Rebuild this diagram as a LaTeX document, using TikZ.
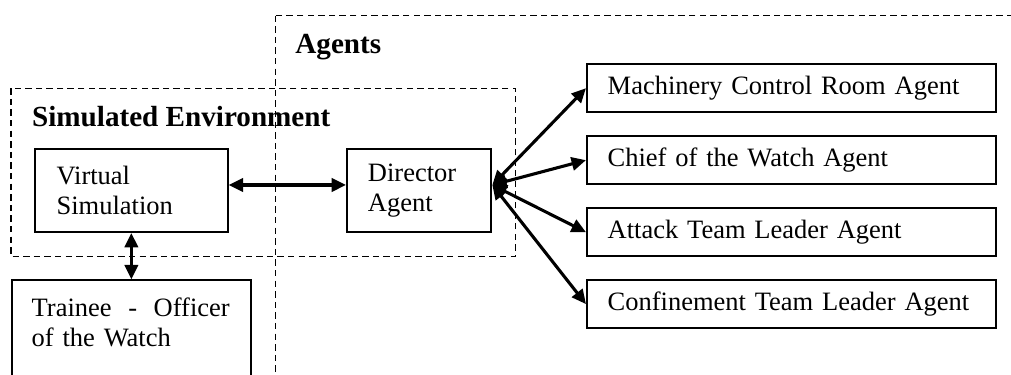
\documentclass[tikz,border=0pt]{standalone}
\usepackage{fontspec}
\setmainfont{Liberation Serif}
\usetikzlibrary{arrows.meta, positioning, calc}

\begin{document}
\begin{tikzpicture}[x=0.453pt, y=-0.453pt,
    every node/.style={font=\fontsize{12}{13.6}\selectfont},
    box/.style={draw, line width=0.9pt, align=left, inner ysep=0pt},
    agentbox/.style={box, text width=166.4pt, inner xsep=9.4pt, minimum height=21.7pt},
    group/.style={dashed, dash pattern=on 2.9pt off 1.9pt, line width=0.65pt},
    grouplabel/.style={anchor=base west, inner sep=0pt, font=\fontsize{13.2}{15}\selectfont\bfseries},
    >={Triangle[length=6.5pt, width=6pt]},
    link/.style={<->, line width=1.4pt}]
    \useasboundingbox (0,0) rectangle (1011,374);
    \clip (0,0) rectangle (1011,374);

    % groups
    \draw[group] (275.3,15.7) rectangle (1040,420);
    \node[grouplabel] (agentslbl) at (295,53.3) {Agents};
    \draw[group] (11,88.3) rectangle (515.5,256.3);
    \node[grouplabel] (simlbl) at (31.7,126.7) {Simulated Environment};

    % simulated environment
    \node[box, text width=67.7pt, inner xsep=9.8pt, minimum height=37.6pt] (vs) at (131.35,190.5) {Virtual\\Simulation};
    \node[box, text width=46.4pt, inner xsep=9.5pt, minimum height=37.6pt] (director) at (419.15,190.5) {Director\\Agent};

    % trainee
    \node[draw, line width=0.9pt, minimum width=108.4pt, minimum height=60pt, anchor=north] (trainee) at (131.35,279.3) {};
    \node[anchor=north west, inner xsep=9.3pt, inner ysep=8pt, text width=89.7pt, align=left] (traineetxt) at (trainee.north west) {Trainee\hfill-\hfill Officer\\of the Watch};

    % agents
    \node[agentbox] (mcr) at (791.35,88.2) {Machinery Control Room Agent};
    \node[agentbox, below=10pt of mcr] (cow) {Chief of the Watch Agent};
    \node[agentbox, below=10pt of cow] (atl) {Attack Team Leader Agent};
    \node[agentbox, below=10pt of atl] (ctl) {Confinement Team Leader Agent};

    % links
    \draw[link] ([yshift=2.5pt]vs.east) -- ([yshift=2.5pt]director.west);
    \draw[link] (vs.south) -- (trainee.north);
    \coordinate (hub) at ([yshift=2.5pt]director.east);
    \foreach \a in {mcr, cow, atl, ctl}
        \draw[link] (hub) -- (\a.west);
\end{tikzpicture}
\end{document}
